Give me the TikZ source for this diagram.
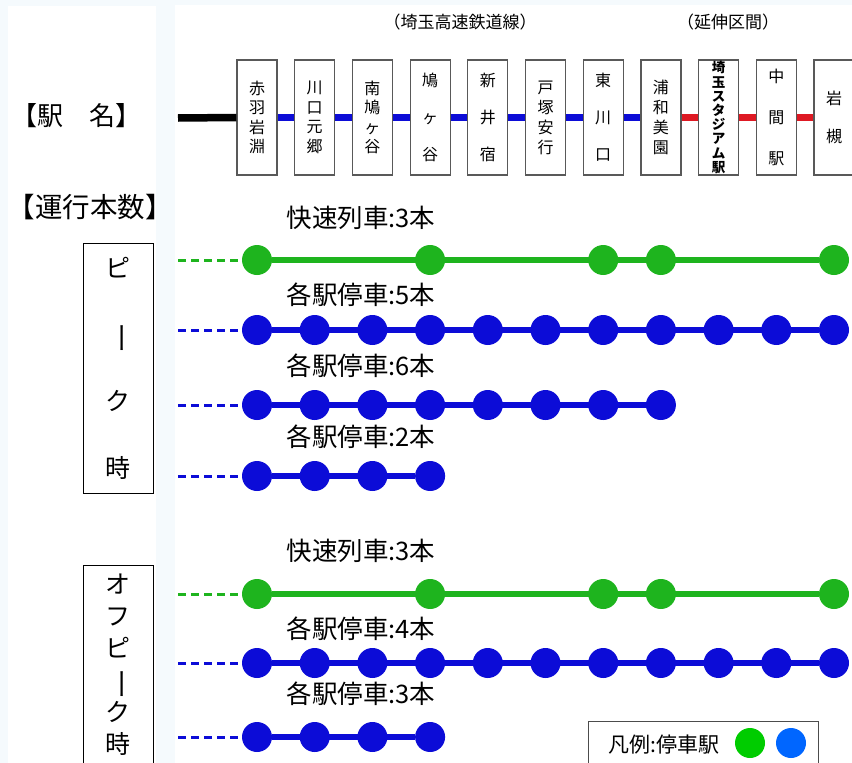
\documentclass[tikz,border=0pt]{standalone}
\usepackage{fontspec}
\usepackage{graphicx}
\setmainfont{Noto Sans CJK JP}
\usetikzlibrary{backgrounds}

\definecolor{paleback}{RGB}{245,250,253}
\definecolor{rapidgreen}{RGB}{30,180,30}
\definecolor{localblue}{RGB}{12,12,215}
\definecolor{extred}{RGB}{222,25,35}
\definecolor{keygreen}{RGB}{0,204,0}
\definecolor{keyblue}{RGB}{0,102,255}

\tikzset{
  stabox/.style={draw=black!65,line width=1.2pt,fill=white,minimum width=40pt,
    minimum height=115pt,inner sep=0pt,align=center},
  rail/.style={line width=7.5pt,#1},
  stopdot/.style={circle,fill=#1,minimum size=30pt,inner sep=0pt},
  svcline/.style={line width=6.5pt,#1},
  svclead/.style={line width=3pt,dash pattern=on 8pt off 5pt,#1},
  svclabel/.style={anchor=west,font=\fontsize{25.5}{25.5}\selectfont},
  timebox/.style={draw,line width=1pt,fill=white,minimum width=70pt,inner sep=0pt,align=center},
  heading/.style={anchor=west,font=\fontsize{26}{26}\selectfont}
}
\newcommand\vbar{\rotatebox[origin=c]{-90}{\scalebox{1.25}[1]{ー}}}

\begin{document}
\begin{tikzpicture}[x=1pt,y=-1pt]
   \useasboundingbox (0,0) rectangle (852,763);
   \begin{scope}[on background layer]
     \fill[paleback] (0,0) rectangle (852,763);
     \fill[white] (8,6) rectangle (156,763);
     \fill[white] (175,5) rectangle (852,763);
   \end{scope}

   \path (8,116) node[heading] (hname) {【駅　名】};
   \path (4,207) node[heading,font=\fontsize{27.5}{27.5}\selectfont] (hcount) {【運行本数】};
   \path (460,22) node[font=\fontsize{17}{17}\selectfont] (hline) {（埼玉高速鉄道線）};
   \path (728,22) node[font=\fontsize{17}{17}\selectfont] (hext) {（延伸区間）};

   % stations
   \foreach \i/\nm/\fz/\sp/\wt in {
     1/{赤\\羽\\岩\\淵}/16/19.5/\mdseries, 2/{川\\口\\元\\郷}/16/19.5/\mdseries,
     3/{南\\鳩\\ヶ\\谷}/16/19.5/\mdseries, 4/{鳩\\ヶ\\谷}/16/37/\mdseries,
     5/{新\\井\\宿}/16/37/\mdseries, 6/{戸\\塚\\安\\行}/16/20/\mdseries,
     7/{東\\川\\口}/16/37/\mdseries, 8/{浦\\和\\美\\園}/16/20/\mdseries,
     9/{埼\\玉\\ス\\タ\\ジ\\ア\\ム\\駅}/13.5/14.2/\bfseries,
     10/{中\\間\\駅}/16/41/\mdseries, 11/{岩\\槻}/16/38/\mdseries}
   {
     \pgfmathsetmacro\sx{257+57.7*(\i-1)}
     \path (\sx,117.5) node[stabox,font=\fontsize{\fz}{\sp}\wt\selectfont] (s\i) {\nm};
   }
   \coordinate (s0) at (178,118);
   \draw[rail=black] (s0) -- (s1.west);
   \foreach \i [count=\j from 2] in {1,...,7}
     \draw[rail=localblue] (s\i.east) -- (s\j.west);
   \foreach \i [count=\j from 9] in {8,9,10}
     \draw[rail=extred] (s\i.east) -- (s\j.west);

   % peak / off-peak
   \path (118,368) node[timebox,minimum height=250pt,font=\fontsize{25}{66.7}\selectfont] (peak)
     {ピ\\\vbar\\ク\\時};
   \path (118,665) node[timebox,minimum height=200pt,font=\fontsize{25}{32}\selectfont] (offpeak)
     {オ\\フ\\ピ\\\vbar\\ク\\時};

   % service rows
   \foreach \r/\y/\col/\stops/\last/\txt/\ly in {
     pa/260/rapidgreen/{1,4,7,8,11}/11/快速列車:3本/218,
     pb/330/localblue/{1,...,11}/11/各駅停車:5本/295,
     pc/405/localblue/{1,...,8}/8/各駅停車:6本/366,
     pd/476/localblue/{1,...,4}/4/各駅停車:2本/437,
     oa/594/rapidgreen/{1,4,7,8,11}/11/快速列車:3本/551,
     ob/663/localblue/{1,...,11}/11/各駅停車:4本/629,
     oc/737/localblue/{1,...,4}/4/各駅停車:3本/694}
   {
     \path (283,\ly) node[svclabel] (\r-lbl) {\txt};
     \foreach \s in \stops {
       \pgfmathsetmacro\sx{257+57.7*(\s-1)}
       \path (\sx,\y) node[stopdot=\col] (\r\s) {};
     }
     \coordinate (\r0) at (178,\y);
     \begin{scope}[on background layer]
       \draw[svcline=\col] (\r1) -- (\r\last);
       \draw[svclead=\col] (\r0) -- (\r1);
     \end{scope}
   }

   % legend
   \path (703,744) node[draw=black!70,line width=1pt,fill=white,minimum width=230pt,minimum height=46pt] (key) {};
   \path (664,745) node[font=\fontsize{21}{21}\selectfont] (keytxt) {凡例:停車駅};
   \path (750,743) node[stopdot=keygreen] (keyg) {};
   \path (791,743) node[stopdot=keyblue] (keyb) {};
\end{tikzpicture}
\end{document}
